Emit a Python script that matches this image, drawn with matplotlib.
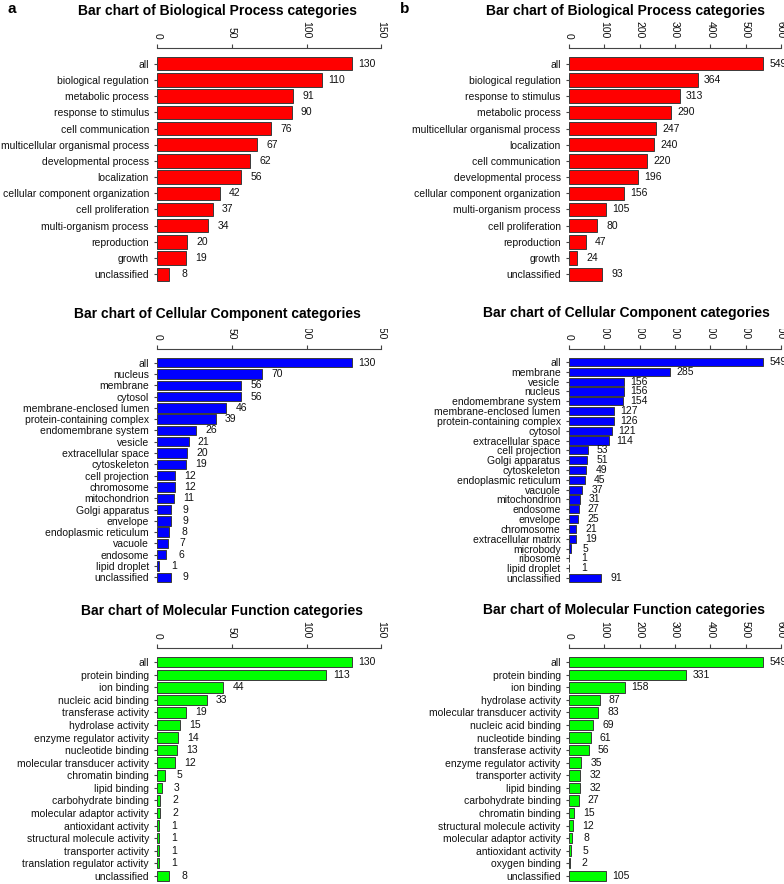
import numpy as np
import matplotlib
matplotlib.use("Agg")
import matplotlib.pyplot as plt
from matplotlib.transforms import Bbox, TransformedBbox

plt.rcParams['font.family'] = ['Liberation Sans', 'DejaVu Sans']

# ---- data ----
bp_a_cats = ['all', 'biological regulation', 'metabolic process', 'response to stimulus',
             'cell communication', 'multicellular organismal process', 'developmental process',
             'localization', 'cellular component organization', 'cell proliferation',
             'multi-organism process', 'reproduction', 'growth', 'unclassified']
bp_a_vals = [130, 110, 91, 90, 76, 67, 62, 56, 42, 37, 34, 20, 19, 8]

bp_b_cats = ['all', 'biological regulation', 'response to stimulus', 'metabolic process',
             'multicellular organismal process', 'localization', 'cell communication',
             'developmental process', 'cellular component organization', 'multi-organism process',
             'cell proliferation', 'reproduction', 'growth', 'unclassified']
bp_b_vals = [549, 364, 313, 290, 247, 240, 220, 196, 156, 105, 80, 47, 24, 93]

cc_a_cats = ['all', 'nucleus', 'membrane', 'cytosol', 'membrane-enclosed lumen',
             'protein-containing complex', 'endomembrane system', 'vesicle',
             'extracellular space', 'cytoskeleton', 'cell projection', 'chromosome',
             'mitochondrion', 'Golgi apparatus', 'envelope', 'endoplasmic reticulum',
             'vacuole', 'endosome', 'lipid droplet', 'unclassified']
cc_a_vals = [130, 70, 56, 56, 46, 39, 26, 21, 20, 19, 12, 12, 11, 9, 9, 8, 7, 6, 1, 9]

cc_b_cats = ['all', 'membrane', 'vesicle', 'nucleus', 'endomembrane system',
             'membrane-enclosed lumen', 'protein-containing complex', 'cytosol',
             'extracellular space', 'cell projection', 'Golgi apparatus', 'cytoskeleton',
             'endoplasmic reticulum', 'vacuole', 'mitochondrion', 'endosome', 'envelope',
             'chromosome', 'extracellular matrix', 'microbody', 'ribosome', 'lipid droplet',
             'unclassified']
cc_b_vals = [549, 285, 156, 156, 154, 127, 126, 121, 114, 53, 51, 49, 45, 37, 31, 27, 25,
             21, 19, 5, 1, 1, 91]

mf_a_cats = ['all', 'protein binding', 'ion binding', 'nucleic acid binding',
             'transferase activity', 'hydrolase activity', 'enzyme regulator activity',
             'nucleotide binding', 'molecular transducer activity', 'chromatin binding',
             'lipid binding', 'carbohydrate binding', 'molecular adaptor activity',
             'antioxidant activity', 'structural molecule activity', 'transporter activity',
             'translation regulator activity', 'unclassified']
mf_a_vals = [130, 113, 44, 33, 19, 15, 14, 13, 12, 5, 3, 2, 2, 1, 1, 1, 1, 8]

mf_b_cats = ['all', 'protein binding', 'ion binding', 'hydrolase activity',
             'molecular transducer activity', 'nucleic acid binding', 'nucleotide binding',
             'transferase activity', 'enzyme regulator activity', 'transporter activity',
             'lipid binding', 'carbohydrate binding', 'chromatin binding',
             'structural molecule activity', 'molecular adaptor activity',
             'antioxidant activity', 'oxygen binding', 'unclassified']
mf_b_vals = [549, 331, 158, 87, 83, 69, 61, 56, 35, 32, 32, 27, 15, 12, 8, 5, 2, 105]

W, H = 784, 884
fig = plt.figure(figsize=(W / 100, H / 100), dpi=100)


def px_rect(x0, y0, x1, y1):
    return [x0 / W, 1 - y1 / H, (x1 - x0) / W, (y1 - y0) / H]


def panel(cats, vals, color, xmax, step, cols, top, clip_y=None):
    ax = fig.add_axes(px_rect(cols[0], top, cols[1], top + 242))
    n = len(cats)
    pos = 0.7 + 1.2 * np.arange(n)
    rng = 1.2 * n - 0.2
    ax.barh(pos, vals, height=1.0, color=color, edgecolor='#3a3a3a', linewidth=0.7)
    ax.set_ylim(1.2 * n + 0.04 * rng, 0.2 - 0.04 * rng)
    ax.set_xlim(0, xmax)
    ax.set_yticks(pos)
    ax.set_yticklabels(cats, fontsize=7.5)
    ax.xaxis.tick_top()
    ticks = np.arange(0, xmax + 1, step)
    ax.set_xticks(ticks)
    ax.set_xticklabels([str(t) for t in ticks], rotation=-90, fontsize=7.5)
    for s in ['left', 'right', 'bottom']:
        ax.spines[s].set_visible(False)
    ax.spines['top'].set_color('#444444')
    ax.spines['top'].set_linewidth(0.8)
    ax.tick_params(axis='x', direction='out', length=3, width=0.8, pad=4,
                   color='#444444', labelcolor='#111111')
    ax.tick_params(axis='y', direction='out', length=2.5, width=0.8, pad=3.5,
                   color='#444444', labelcolor='#111111')
    for v, p in zip(vals, pos):
        ax.annotate(str(v), (v, p), xytext=(15, 0), textcoords='offset pixels',
                    ha='center', va='center', fontsize=7.5, color='#111111',
                    annotation_clip=False)
    if clip_y is not None:
        # the original has the top of these tick labels cut off under the title
        box = TransformedBbox(Bbox([[0, 0], [1, 1 - clip_y / H]]), fig.transFigure)
        for lab in ax.get_xticklabels():
            lab.set_clip_box(box)
            lab.set_clip_on(True)
    ax.patch.set_visible(False)
    return ax


left = (157.3, 381.4)
right = (569, 781)

panel(bp_a_cats, bp_a_vals, '#ff0000', 150, 50, left, 48)
panel(bp_b_cats, bp_b_vals, '#ff0000', 600, 100, right, 48)
panel(cc_a_cats, cc_a_vals, '#0000ff', 150, 50, left, 349, clip_y=329)
panel(cc_b_cats, cc_b_vals, '#0000ff', 600, 100, right, 349, clip_y=329)
panel(mf_a_cats, mf_a_vals, '#00ff00', 150, 50, left, 648)
panel(mf_b_cats, mf_b_vals, '#00ff00', 600, 100, right, 648)

titles = [('Bar chart of Biological Process categories', 218, 11),
          ('Bar chart of Biological Process categories', 625, 11),
          ('Bar chart of Cellular Component categories', 217, 314),
          ('Bar chart of Cellular Component categories', 626, 313),
          ('Bar chart of Molecular Function categories', 222, 611),
          ('Bar chart of Molecular Function categories', 624, 610)]
for t, cx, cy in titles:
    fig.text(cx / W, 1 - cy / H, t, ha='center', va='center', fontsize=10, weight='bold')

fig.text(7 / W, 1 - 9 / H, 'a', ha='left', va='center', fontsize=11, weight='bold')
fig.text(400 / W, 1 - 9 / H, 'b', ha='left', va='center', fontsize=11, weight='bold')

fig.savefig('out.png', dpi=100)
